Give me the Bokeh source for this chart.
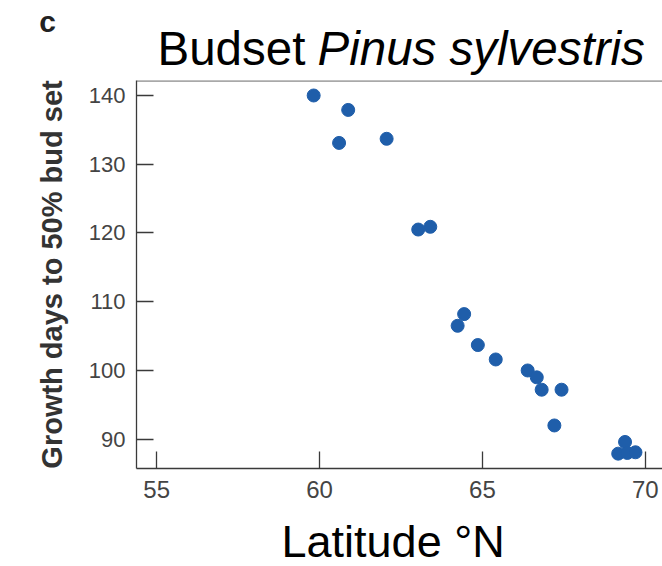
from bokeh.plotting import figure
from bokeh.models import Label, Span, FixedTicker, Range1d
from bokeh.layouts import column
from bokeh.embed import file_html
from bokeh.resources import INLINE

# Data
latitude = [59.82, 60.88, 60.60, 62.06, 63.03, 63.40, 64.44, 64.24, 64.86, 65.41,
            66.39, 66.67, 66.82, 67.43, 67.21, 69.17, 69.38, 69.45, 69.70]
growth_days = [140.0, 137.9, 133.1, 133.7, 120.5, 120.9, 108.2, 106.5, 103.7, 101.6,
               100.0, 99.0, 97.2, 97.2, 92.0, 87.9, 89.6, 88.0, 88.1]
x_ticks = [55, 60, 65, 70]
y_ticks = [90, 100, 110, 120, 130, 140]

X0, X1 = 54.38, 70.53
Y0, Y1 = 85.74, 142.18
FONT = "Liberation Sans"
W = 662
TOP_H = 80
MAIN_H = 430
BOT_H = 566 - TOP_H - MAIN_H


def blank_fig(h):
    f = figure(width=W, height=h, output_backend="svg", toolbar_location=None,
               x_range=Range1d(0, W), y_range=Range1d(h, 0),
               x_axis_type=None, y_axis_type=None,
               min_border=0, min_border_left=0, min_border_right=0,
               min_border_top=0, min_border_bottom=0)
    f.frame_align = False
    f.outline_line_color = None
    f.xgrid.grid_line_color = None
    f.ygrid.grid_line_color = None
    f.background_fill_color = "white"
    f.border_fill_color = "white"
    return f


# --- title row ---
top = blank_fig(TOP_H)
top.add_layout(Label(x=157, y=47.5, text="Budset", text_font=FONT,
                     text_font_size="47.5px", text_color="black", text_align="left",
                     text_baseline="alphabetic"))
top.add_layout(Label(x=317, y=47.5, text="Pinus sylvestris", text_font=FONT,
                     text_font_size="47.5px", text_font_style="italic", text_color="black",
                     text_align="left", text_baseline="alphabetic"))
top.add_layout(Label(x=47, y=21, text="c", text_font=FONT,
                     text_font_size="30px", text_font_style="bold", text_color="#222222",
                     text_align="center", text_baseline="alphabetic"))

# --- main plot ---
p = figure(width=W, height=MAIN_H, output_backend="svg", toolbar_location=None,
           x_range=(X0, X1), y_range=(Y0, Y1),
           min_border_left=136, min_border_right=0, min_border_top=0,
           min_border_bottom=MAIN_H - 388)
p.frame_align = False
p.outline_line_color = None
p.xgrid.grid_line_color = None
p.ygrid.grid_line_color = None
p.background_fill_color = "white"
p.border_fill_color = "white"

p.scatter(latitude, growth_days, size=13, fill_color="#1F5EAA", line_color="#1F5EAA")

for ax in (p.xaxis[0], p.yaxis[0]):
    ax.axis_line_color = "#3a3a3a"
    ax.axis_line_width = 1.3
    ax.major_tick_line_color = "#3a3a3a"
    ax.major_tick_line_width = 1.3
    ax.major_tick_in = 17
    ax.major_tick_out = 0
    ax.minor_tick_line_color = None
    ax.major_label_text_font = FONT
    ax.major_label_text_color = "#444444"

p.xaxis.ticker = FixedTicker(ticks=x_ticks)
p.yaxis.ticker = FixedTicker(ticks=y_ticks)
p.xaxis.major_label_text_font_size = "24px"
p.yaxis.major_label_text_font_size = "22px"
p.xaxis.major_label_standoff = 12
p.yaxis.major_label_standoff = 11

p.yaxis.axis_label = "Growth days to 50% bud set"
p.yaxis.axis_label_text_font = FONT
p.yaxis.axis_label_text_font_style = "bold"
p.yaxis.axis_label_text_font_size = "29px"
p.yaxis.axis_label_text_color = "#333333"
p.yaxis.axis_label_standoff = 18

p.add_layout(Span(location=Y1 - 0.05, dimension="width", line_color="#555555", line_width=1.3))

# --- x-axis title row ---
bot = blank_fig(BOT_H)
bot.add_layout(Label(x=392.6, y=31, text="Latitude °N", text_font=FONT,
                     text_font_size="45px", text_color="black", text_align="center",
                     text_baseline="alphabetic"))

layout = column(top, p, bot, spacing=0)
open("out.html", "w").write(file_html(layout, INLINE))
